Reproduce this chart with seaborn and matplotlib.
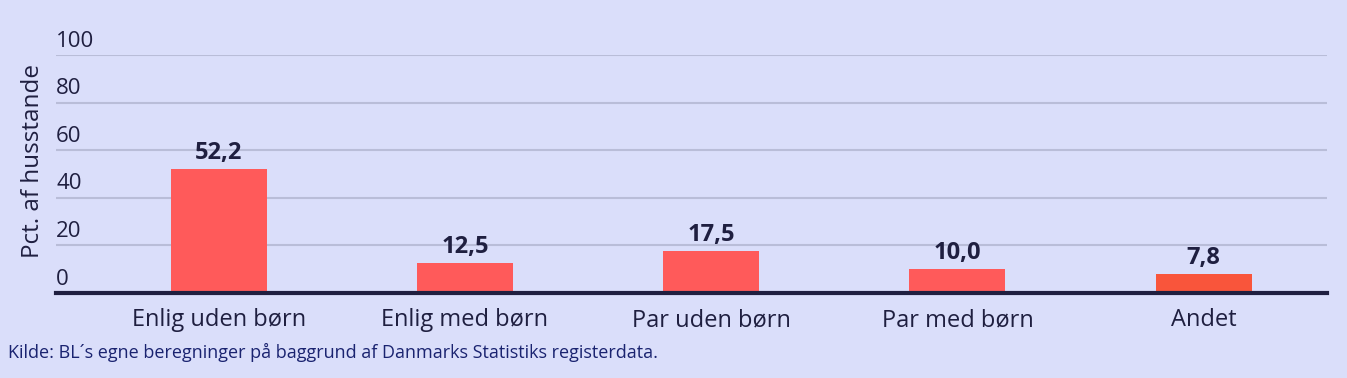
import matplotlib.pyplot as plt
import seaborn as sns
import pandas as pd

sns.set_style("white")
plt.rcParams['font.family'] = ['Open Sans', 'DejaVu Sans']

kategorier = ["Enlig uden børn", "Enlig med børn", "Par uden børn", "Par med børn", "Andet"]
andel = [52.2, 12.5, 17.5, 10.0, 7.8]
farver = ["#FF5A5A", "#FF5A5A", "#FF5A5A", "#FF5A5A", "#F9553B"]
yticks = [0, 20, 40, 60, 80, 100]

bg = "#DADEFA"
navy = "#1F1F40"

df = pd.DataFrame({"kategori": kategorier, "andel": andel})

fig = plt.figure(figsize=(13.47, 3.78), dpi=100, facecolor=bg)
ax = fig.add_axes([0.0416, 0.2249, 0.9434, 0.6296])
ax.set_facecolor(bg)

sns.barplot(data=df, x="kategori", y="andel", hue="kategori", palette=farver,
            legend=False, width=0.39, saturation=1, linewidth=0, ax=ax, zorder=3)

ax.set_ylim(0, 100)
ax.set_xlim(-0.66, 4.5)
ax.set_yticks(yticks)
ax.set_yticklabels([])
ax.tick_params(axis='y', length=0)
ax.yaxis.grid(True, color="#B9BDD8", linewidth=1.5, zorder=0)
ax.xaxis.grid(False)

for v in yticks:
    ax.annotate(str(v), xy=(0, v), xycoords=ax.get_yaxis_transform(),
                xytext=(0, 6), textcoords='offset points',
                ha='left', va='baseline', fontsize=16, color=navy, clip_on=False)

for i, v in enumerate(andel):
    ax.annotate(f"{v:.1f}".replace(".", ","), xy=(i, v), xytext=(0, 3),
                textcoords='offset points', ha='center', va='bottom',
                fontsize=17, fontweight='bold', color=navy)

for s in ['top', 'right', 'left']:
    ax.spines[s].set_visible(False)
ax.spines['bottom'].set_color(navy)
ax.spines['bottom'].set_linewidth(3)
ax.spines['bottom'].set_zorder(4)

ax.tick_params(axis='x', length=0, pad=11, labelsize=17, labelcolor=navy)
ax.set_xlabel("")
ax.set_ylabel("Pct. af husstande", fontsize=17.5, color=navy)
ax.yaxis.set_label_coords(-0.009, 0.555)

fig.text(0.006, 1 - 352 / 378, "Kilde: BL´s egne beregninger på baggrund af Danmarks Statistiks registerdata.",
         ha='left', va='center', fontsize=13, color="#1A2370")

fig.savefig("out.png", dpi=100, facecolor=bg)
